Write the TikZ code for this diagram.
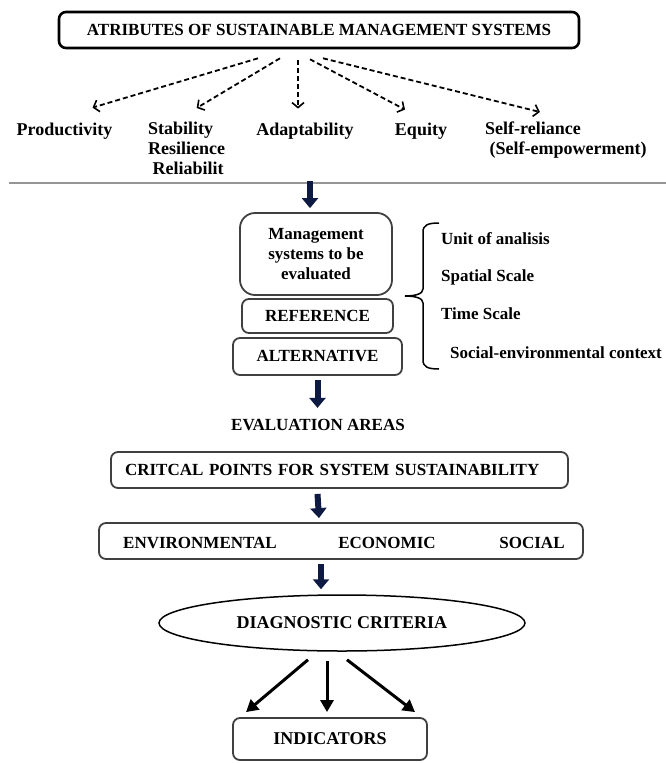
\documentclass[tikz,border=0pt]{standalone}
\usepackage{fontspec}
\setmainfont{Liberation Serif}
\usetikzlibrary{arrows.meta,shapes.geometric}

\definecolor{navy}{RGB}{14,26,66}
\definecolor{frame}{RGB}{64,64,64}
\definecolor{rulegray}{RGB}{150,150,150}

\tikzset{
  lbl/.style={font=\bfseries\fontsize{17}{20}\selectfont, inner sep=0pt},
  biglbl/.style={font=\bfseries\fontsize{18}{20}\selectfont, inner sep=0pt},
  rbox/.style={lbl, draw=frame, line width=1.8pt, rounded corners=7pt},
  dasharrow/.style={dash pattern=on 5pt off 3pt, line width=1.8pt, -{Straight Barb[length=5pt,width=12pt,line width=1.6pt]}},
  blockarrow/.style={navy, line width=6pt, -{Triangle[width=16pt,length=10pt]}},
  diagarrow/.style={line width=3pt, -{Triangle[width=13pt,length=12pt]}}
}

\begin{document}
\begin{tikzpicture}[x=1pt,y=-1pt]
  \useasboundingbox (0,0) rectangle (666,763);

  %attributes on top
  \node[rbox, draw=black, line width=2.6pt, minimum width=520pt, minimum height=36pt] (attr) at (319,30) {ATRIBUTES OF SUSTAINABLE MANAGEMENT SYSTEMS};
  \node[biglbl] (prod) at (64.5,131) {Productivity};
  \node[biglbl, align=left, anchor=north west] (stab) at (148,122) {Stability\\Resilience\\\ Reliabilit};
  \node[biglbl] (adapt) at (305,131) {Adaptability};
  \node[biglbl] (equity) at (421,131) {Equity};
  \node[biglbl, align=left, anchor=north west] (self) at (485,122) {Self-reliance\\\ (Self-empowerment)};

  \draw[dasharrow] ([xshift=-61pt,yshift=-9pt]attr.south) -- ([xshift=28pt,yshift=15pt]prod.north);
  \draw[dasharrow] ([xshift=-39pt,yshift=-9pt]attr.south) -- ([xshift=10pt,yshift=14pt]stab.north);
  \draw[dasharrow] ([xshift=-21pt,yshift=-11pt]attr.south) -- ([xshift=-7pt,yshift=14pt]adapt.north);
  \draw[dasharrow] ([xshift=-9pt,yshift=-10pt]attr.south) -- ([xshift=-16pt,yshift=13pt]equity.north);
  \draw[dasharrow] ([xshift=4pt,yshift=-9pt]attr.south) -- ([xshift=-26pt,yshift=10pt]self.north);

  %separator
  \draw[rulegray, line width=1.6pt] (9,183) -- (666,183);

  %systems to be evaluated
  \node[rbox, rounded corners=15pt, align=center, minimum width=152pt, minimum height=82pt] (mgmt) at (316,254) {Management\\systems to be\\evaluated};
  \node[rbox, minimum width=151pt, minimum height=34pt] (ref) at (317.5,316) {REFERENCE};
  \node[rbox, minimum width=169pt, minimum height=37pt] (alt) at (317.5,356.5) {ALTERNATIVE};
  \draw[blockarrow] ([xshift=-6pt,yshift=31pt]mgmt.north) -- ([xshift=-6pt,yshift=4pt]mgmt.north);

  %brace and its items
  \draw[line width=1.5pt] (439,223) .. controls (428,223) and (423,225) .. (423,232) -- (423,289)
    .. controls (423,294) and (415,296) .. (405,296) .. controls (415,296) and (423,298) .. (423,303)
    -- (423,360) .. controls (423,367) and (428,369) .. (439,369);
  \node[lbl, anchor=west] (unit) at (441,239) {Unit of analisis};
  \node[lbl, anchor=west] (spatial) at (441,277) {Spatial Scale};
  \node[lbl, anchor=west] (time) at (441,314) {Time Scale};
  \node[lbl, anchor=west] (context) at (450,353) {Social-environmental context};

  %evaluation areas
  \draw[blockarrow] ([yshift=-4pt]alt.south) -- ([yshift=-32pt]alt.south);
  \node[lbl] (eval) at (318,425) {EVALUATION AREAS};
  \node[rbox, text width=429pt, inner xsep=14pt, align=left, minimum height=36pt] (crit) at (339.5,470) {CRITCAL POINTS FOR SYSTEM SUSTAINABILITY};
  \node[rbox, minimum width=484pt, minimum height=36pt] (env) at (341,541) {};
  \node[lbl] (envt) at (200,543) {ENVIRONMENTAL};
  \node[lbl] (econ) at (387,543) {ECONOMIC};
  \node[lbl] (soc) at (532,543) {SOCIAL};
  \draw[blockarrow] ([xshift=-22pt,yshift=-5pt]crit.south) -- ([xshift=-22pt,yshift=4pt]env.north);

  %criteria and indicators
  \node[biglbl, draw=black, line width=1.5pt, ellipse, minimum width=366pt, minimum height=56pt] (diag) at (342,623) {DIAGNOSTIC CRITERIA};
  \draw[blockarrow] ([xshift=-20pt,yshift=-4pt]env.south) -- ([xshift=-21pt,yshift=5pt]diag.north);
  \node[rbox, font=\bfseries\fontsize{18}{20}\selectfont, minimum width=194pt, minimum height=42pt] (ind) at (330,739) {INDICATORS};
  \draw[diagarrow] ([xshift=-34pt,yshift=-8pt]diag.south) -- ([xshift=-84pt,yshift=5pt]ind.north);
  \draw[diagarrow] ([xshift=-15pt,yshift=-9pt]diag.south) -- ([xshift=-3pt,yshift=5pt]ind.north);
  \draw[diagarrow] ([xshift=5pt,yshift=-8pt]diag.south) -- ([xshift=85pt,yshift=5pt]ind.north);
\end{tikzpicture}
\end{document}
